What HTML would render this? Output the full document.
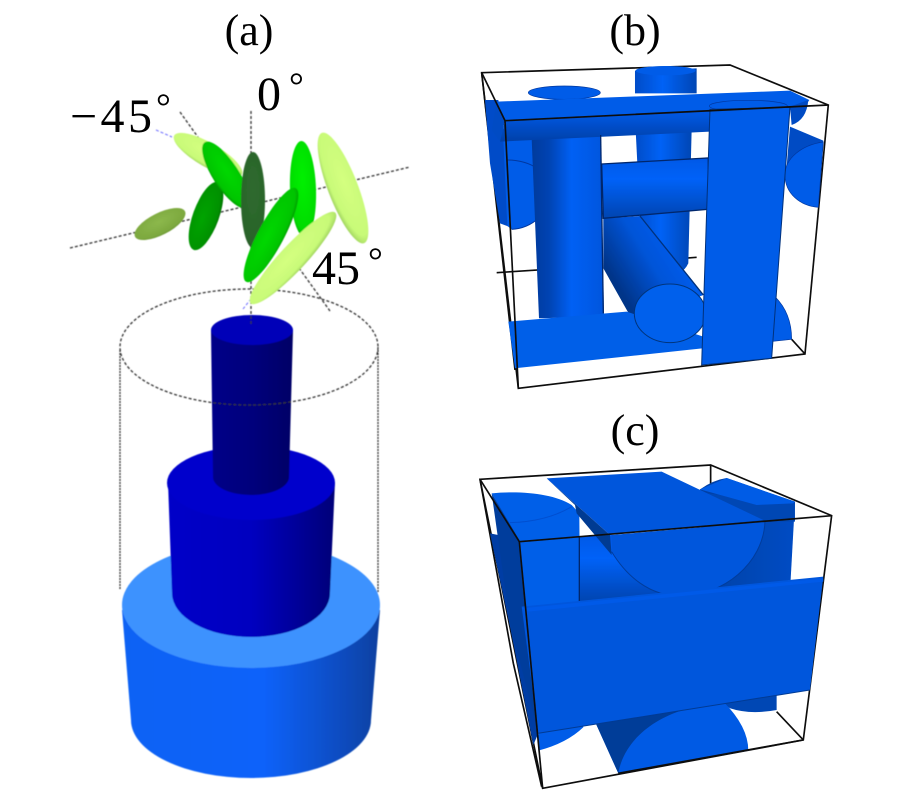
<!DOCTYPE html>
<html><head><meta charset="utf-8"><style>
html,body{margin:0;padding:0;background:#fff}
svg{display:block}
text{font-family:"Liberation Serif",serif;fill:#000}
</style></head><body>
<svg width="900" height="800" viewBox="0 0 900 800" xmlns="http://www.w3.org/2000/svg">
<defs>
<linearGradient id="cb" x1="0" x2="1" y1="0" y2="0"><stop offset="0" stop-color="#0a62f4"/><stop offset=".55" stop-color="#0a62fa"/><stop offset=".85" stop-color="#0a4cc0"/><stop offset="1" stop-color="#0840a0"/></linearGradient>
<linearGradient id="cm" x1="0" x2="1" y1="0" y2="0"><stop offset="0" stop-color="#0000c8"/><stop offset=".5" stop-color="#0000c0"/><stop offset="1" stop-color="#000078"/></linearGradient>
<linearGradient id="ct" x1="0" x2="1" y1="0" y2="0"><stop offset="0" stop-color="#000088"/><stop offset=".5" stop-color="#00007c"/><stop offset="1" stop-color="#000066"/></linearGradient>
<linearGradient id="v" x1="0" x2="1" y1="0" y2="0"><stop offset="0" stop-color="#003a9c"/><stop offset=".25" stop-color="#0044b4"/><stop offset=".55" stop-color="#0060f4"/><stop offset=".8" stop-color="#005ae8"/><stop offset="1" stop-color="#0056dc"/></linearGradient>
<linearGradient id="v2" x1="0" x2="1" y1="0" y2="0"><stop offset="0" stop-color="#004cc8"/><stop offset=".45" stop-color="#0062f6"/><stop offset="1" stop-color="#0046b4"/></linearGradient>
<linearGradient id="h" x1="0" x2="0" y1="0" y2="1"><stop offset="0" stop-color="#0058e6"/><stop offset=".35" stop-color="#0062f8"/><stop offset="1" stop-color="#0044b0"/></linearGradient>
<linearGradient id="d" gradientUnits="userSpaceOnUse" x1="430" y1="690" x2="640" y2="560"><stop offset="0" stop-color="#003488"/><stop offset=".5" stop-color="#0054d8"/><stop offset="1" stop-color="#0060f4"/></linearGradient>
<linearGradient id="bar" x1="0" x2="0" y1="0" y2="1"><stop offset="0" stop-color="#005ae8"/><stop offset="1" stop-color="#0040a8"/></linearGradient>
<linearGradient id="r" x1="0" x2="1" y1="0" y2="0"><stop offset="0" stop-color="#0040a4"/><stop offset="1" stop-color="#004cc4"/></linearGradient>
<radialGradient id="lg" cx=".45" cy=".4" r=".65"><stop offset="0" stop-color="#d4ff80"/><stop offset=".75" stop-color="#c8fa78"/><stop offset="1" stop-color="#94c858"/></radialGradient>
<radialGradient id="ol" cx=".5" cy=".4" r=".65"><stop offset="0" stop-color="#8cb84c"/><stop offset=".8" stop-color="#7ca83e"/><stop offset="1" stop-color="#5f8a2e"/></radialGradient>
<radialGradient id="g1" cx=".45" cy=".4" r=".65"><stop offset="0" stop-color="#00d800"/><stop offset=".8" stop-color="#00c400"/><stop offset="1" stop-color="#008c00"/></radialGradient>
<radialGradient id="g2" cx=".5" cy=".4" r=".65"><stop offset="0" stop-color="#00f000"/><stop offset=".8" stop-color="#00dc00"/><stop offset="1" stop-color="#00a000"/></radialGradient>
<radialGradient id="g3" cx=".45" cy=".4" r=".65"><stop offset="0" stop-color="#00a400"/><stop offset=".8" stop-color="#009000"/><stop offset="1" stop-color="#006400"/></radialGradient>
<radialGradient id="g4" cx=".5" cy=".4" r=".65"><stop offset="0" stop-color="#2f6a2f"/><stop offset=".85" stop-color="#2a642a"/><stop offset="1" stop-color="#1c4a1c"/></radialGradient>
<filter id="s" x="-5%" y="-5%" width="110%" height="110%"><feGaussianBlur stdDeviation=".5"/></filter>
</defs>

<text x="249" y="45" font-size="44" text-anchor="middle">(a)</text>
<text x="635" y="45" font-size="44" text-anchor="middle">(b)</text>
<text x="635" y="445" font-size="44" text-anchor="middle">(c)</text>

<!-- panel a -->
<g filter="url(#s)">
<g stroke="#333" stroke-width="1.3" fill="none" stroke-dasharray="3 2">
<line x1="70" y1="248" x2="410" y2="167"/>
<line x1="251" y1="111" x2="251" y2="325"/>
<line x1="180" y1="112" x2="200" y2="140"/>
<line x1="299" y1="268" x2="330" y2="311"/>
</g>
<g stroke="#6a6aff" stroke-width="1" stroke-dasharray="3 2"><line x1="156" y1="130" x2="172" y2="137"/><line x1="243" y1="309" x2="250" y2="300"/></g>

<path d="M122,610 L131,720 A120,58 0 0 0 371,720 L380,610Z" fill="url(#cb)"/>
<ellipse cx="251" cy="605" rx="129" ry="63" fill="#3e92fe"/>
<path d="M168,482 L172,593 A79,44 0 0 0 330,593 L335,482Z" fill="url(#cm)"/>
<ellipse cx="251" cy="483" rx="84" ry="37" fill="#0000cc"/>
<path d="M211,330 L213,477 A38,18 0 0 0 289,477 L293,330Z" fill="url(#ct)"/>
<ellipse cx="252" cy="330" rx="41" ry="15" fill="#0000b8"/>

<g stroke="#333" stroke-width="1.3" fill="none" stroke-dasharray="3 2">
<ellipse cx="249" cy="347" rx="129" ry="58"/>
<line x1="120" y1="350" x2="120" y2="590" stroke-dasharray="2 1"/>
<line x1="378" y1="350" x2="378" y2="592" stroke-dasharray="2 1"/>
<line x1="251" y1="316" x2="251" y2="325"/>
</g>

<ellipse cx="160" cy="224" rx="28" ry="11" transform="rotate(-27 160 224)" fill="url(#ol)"/>
<ellipse cx="208" cy="155" rx="39" ry="12" transform="rotate(30 208 155)" fill="url(#lg)"/>
<ellipse cx="206" cy="216" rx="36" ry="13" transform="rotate(-70 206 216)" fill="url(#g3)"/>
<ellipse cx="226" cy="175" rx="39" ry="13" transform="rotate(57 226 175)" fill="url(#g1)"/>
<ellipse cx="253" cy="200" rx="12" ry="48" fill="url(#g4)"/>
<ellipse cx="303" cy="189" rx="13" ry="48" transform="rotate(-2 303 189)" fill="url(#g2)"/>
<ellipse cx="271" cy="235" rx="53" ry="13" transform="rotate(-62 271 235)" fill="url(#g1)"/>
<ellipse cx="343" cy="188" rx="59" ry="15" transform="rotate(69 343 188)" fill="url(#lg)"/>
<ellipse cx="293" cy="258" rx="62" ry="13" transform="rotate(-47 293 258)" fill="url(#lg)"/>
</g>

<text x="70" y="132" font-size="48" textLength="82" lengthAdjust="spacing">−45</text>
<text x="156" y="119" font-size="37">°</text>
<text x="257" y="110" font-size="48">0</text>
<text x="289" y="98" font-size="37">°</text>
<text x="312" y="284" font-size="48">45</text>
<text x="368" y="273" font-size="37">°</text>

<!-- panel b -->
<g transform="translate(470,50) scale(.3333)" filter="url(#s)">
<g stroke="#111" stroke-width="5" fill="none">
<path d="M35,68 L780,45 L1075,165 L1005,912 L145,1015 Z"/>
<path d="M35,68 L135,960 M80,668 L205,660 M640,625 L680,622 M1005,912 L965,868"/>
</g>
<path d="M495,62 L680,55 L680,130 L495,130Z" fill="url(#v2)"/>
<ellipse cx="587" cy="62" rx="90" ry="14" fill="#005ce8"/>
<path d="M497,240 L665,240 L655,640 Q645,662 630,665 L510,500Z" fill="url(#v2)"/>
<path d="M45,150 L85,150 L105,270 L122,532 L90,520 L60,340Z" fill="#004cc8"/>
<path d="M100,265 L185,265 L242,425 C240,490 185,535 125,538 L112,528Z" fill="#005ce8"/>
<path d="M110,330 C185,330 242,370 242,425 C240,490 185,535 125,538" fill="none" stroke="#0038a0" stroke-width="3"/>
<path d="M960,230 L1060,272 L1060,280 L950,350Z" fill="#004cc4"/>
<path d="M1060,276 C995,285 945,325 945,375 C945,430 990,468 1045,472Z" fill="#005ce8" stroke="#0038a0" stroke-width="2"/>
<ellipse cx="283" cy="128" rx="108" ry="20" fill="#005ce8" stroke="#0038a0" stroke-width="2"/>
<path d="M185,265 L392,255 L402,800 L207,805Z" fill="url(#v)"/>
<path d="M400,505 L510,498 L700,735 L490,815 L400,655Z" fill="url(#d)"/>
<path d="M510,498 L700,735" stroke="#00307c" stroke-width="4"/>
<path d="M395,342 L715,324 L715,478 L400,505Z" fill="url(#h)" stroke="#00286c" stroke-width="4"/>
<path d="M115,815 L470,785 L700,860 L700,895 L135,955Z" fill="#005ee8"/>
<path d="M915,740 Q965,790 965,868 L900,875Z" fill="#005ce8" stroke="#0038a0" stroke-width="2"/>
<ellipse cx="600" cy="790" rx="107" ry="88" fill="#0060ec" stroke="#00347c" stroke-width="3"/>
<path d="M80,155 L960,122 L1018,150 L1000,178 L105,212Z" fill="#005ce8"/>
<path d="M80,155 L105,212 L90,275 L65,240Z" fill="#004cc4"/>
<path d="M105,212 L720,182 L720,245 L90,275Z" fill="url(#bar)"/>
<path d="M960,170 L1015,150 Q1010,210 965,225Z" fill="#004cc4"/>
<ellipse cx="835" cy="168" rx="117" ry="17" fill="#005ce8" stroke="#0038a0" stroke-width="2"/>
<path d="M720,178 L960,172 L905,925 L695,945Z" fill="#005ce8" stroke="#00307c" stroke-width="3"/>
<g stroke="#111" stroke-width="5" fill="none"><path d="M105,212 L1075,165 M105,212 L145,1015 M35,68 L105,212"/></g>
<g stroke="#00286c" stroke-width="4" fill="none"><path d="M392,255 L400,790"/></g>
</g>

<!-- panel c -->
<g transform="translate(470,450) scale(.3333)" filter="url(#s)">
<g stroke="#111" stroke-width="5" fill="none">
<path d="M30,88 L722,45 L1085,197 L1000,870 L218,1015 Z"/>
<path d="M722,45 L722,115 M920,785 L1000,870 M30,88 L130,640 L215,1010"/>
</g>
<path d="M690,118 Q730,90 770,84 L975,155 L962,390 L700,440Z" fill="url(#r)"/>
<path d="M710,130 L975,155 L975,215 L880,215Z" fill="#0046b4"/>
<path d="M770,84 L975,155 L970,160 L860,165 L690,118Z" fill="#005ce6"/>
<path d="M60,250 L135,265 L205,850 L190,885 L120,530Z" fill="#003ea4"/>
<path d="M65,130 C150,122 250,130 305,165 L328,190 L330,455 L160,475 L148,275Z" fill="#005ee8"/>
<path d="M65,130 L148,270 L205,850 L120,520Z" fill="#003e9c"/>
<path d="M120,218 Q230,215 305,170" fill="none" stroke="#0050d0" stroke-width="3"/>
<path d="M330,260 L425,255 L640,440 L330,455Z" fill="url(#h)"/>
<path d="M230,85 L575,65 L880,210 L420,255Z" fill="#0056dc"/>
<path d="M230,85 L315,165 L320,190 L425,315 L420,255Z" fill="#003a92"/>
<path d="M425,255 L885,215 C880,340 760,438 630,438 C540,438 470,380 425,300Z" fill="#0056dc"/>
<path d="M885,215 C880,340 760,438 630,438 C540,438 470,380 425,305" fill="none" stroke="#003c9c" stroke-width="3"/>
<path d="M328,260 L328,455" stroke="#00286c" stroke-width="4"/>
<path d="M740,750 L920,720 L920,780 Q840,795 780,775Z" fill="#0046b4"/>
<path d="M205,840 L340,820 L340,832 Q290,880 205,902Z" fill="#005ce8"/>
<path d="M375,815 L760,755 Q835,830 835,902 L445,970Z" fill="#005ae4"/>
<path d="M375,815 L640,780 C540,810 460,880 445,970Z" fill="#003c98"/>
<path d="M155,470 L1060,380 L1020,720 L205,850Z" fill="#0056dc"/>
<path d="M155,475 L1060,385 L1060,395 L175,485Z" fill="#005ae8"/>
<path d="M205,850 L1020,720" stroke="#003a94" stroke-width="3"/>
<g stroke="#111" stroke-width="5" fill="none"><path d="M148,275 L1085,197 M148,275 L218,1015 M30,88 L148,275 M445,970 L1000,870"/></g>
</g>
</svg>
</body></html>
